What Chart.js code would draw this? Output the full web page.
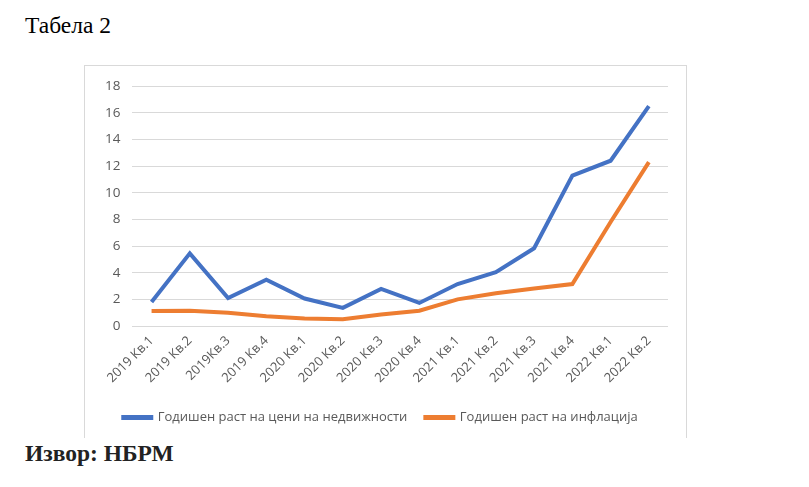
<!DOCTYPE html>
<html>
<head>
<meta charset="utf-8">
<script src="https://cdn.jsdelivr.net/npm/chart.js@4"></script>
<style>
  body { margin: 0; background: #fff; width: 809px; height: 487px; position: relative; overflow: hidden; }
  .title { position: absolute; left: 25px; top: 12px; font-family: "Liberation Serif", serif; font-size: 23.5px; color: #000; }
  .source { position: absolute; left: 25px; top: 440px; font-family: "Liberation Serif", serif; font-size: 23.5px; font-weight: bold; color: #222; }
  .box { position: absolute; left: 84px; top: 65px; width: 601px; height: 372px; border: 1px solid #d9d9d9; border-bottom: none; }
</style>
</head>
<body>
<div class="title">Табела 2</div>
<div class="box"><canvas id="trafficChart" width="601" height="372"></canvas></div>
<div class="source">Извор: НБРМ</div>
<script>
// Quarters and series
const quarters = ["2019 Кв.1", "2019 Кв.2", "2019Кв.3", "2019 Кв.4", "2020 Кв.1", "2020 Кв.2", "2020 Кв.3",
  "2020 Кв.4", "2021 Кв.1", "2021 Кв.2", "2021 Кв.3", "2021 Кв.4", "2022 Кв.1", "2022 Кв.2"];
const realEstate = [1.8, 5.45, 2.1, 3.47, 2.06, 1.36, 2.78, 1.73, 3.15, 4.04, 5.83, 11.29, 12.4, 16.5];
const inflation = [1.12, 1.15, 0.99, 0.74, 0.57, 0.5, 0.87, 1.15, 2.0, 2.45, 2.82, 3.15, 7.8, 12.3];
const yTicks = [0, 2, 4, 6, 8, 10, 12, 14, 16, 18];

const ctx = document.getElementById("trafficChart").getContext("2d");
const tickColor = "#595959";
const fontFamily = "'Open Sans', 'Liberation Sans', sans-serif";

new Chart(ctx, {
  type: "line",
  data: {
    labels: quarters,
    datasets: [
      {
        label: "Годишен раст на цени на недвижности",
        data: realEstate,
        borderColor: "#4472C4",
        backgroundColor: "#4472C4",
        borderWidth: 4,
        pointRadius: 0,
        tension: 0
      },
      {
        label: "Годишен раст на инфлација",
        data: inflation,
        borderColor: "#ED7D31",
        backgroundColor: "#ED7D31",
        borderWidth: 4,
        pointRadius: 0,
        tension: 0
      }
    ]
  },
  options: {
    responsive: false,
    animation: false,
    layout: { padding: { top: 5, right: 18, left: 8, bottom: 4 } },
    plugins: {
      tooltip: { enabled: false },
      legend: {
        position: "bottom",
        labels: {
          color: tickColor,
          font: { family: fontFamily, size: 13 },
          boxWidth: 28,
          boxHeight: 1,
          padding: 18
        }
      }
    },
    scales: {
      x: {
        offset: true,
        grid: { display: false, drawTicks: false },
        border: { display: false },
        ticks: {
          color: tickColor,
          font: { family: fontFamily, size: 13 },
          minRotation: 45,
          maxRotation: 45,
          autoSkip: false,
          padding: 7
        }
      },
      y: {
        min: 0,
        max: 18,
        afterBuildTicks: (axis) => { axis.ticks = yTicks.map(v => ({ value: v })); },
        grid: { color: "#d9d9d9", lineWidth: 1, drawTicks: false },
        border: { display: false },
        ticks: {
          color: tickColor,
          font: { family: fontFamily, size: 13.5 },
          padding: 12
        }
      }
    }
  }
});
</script>
</body>
</html>
